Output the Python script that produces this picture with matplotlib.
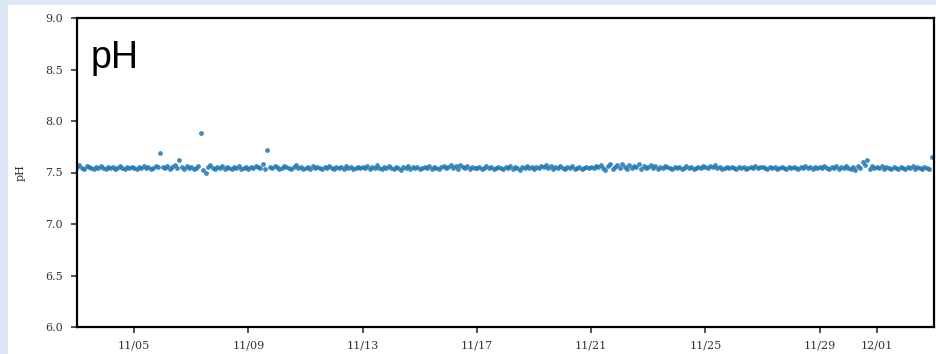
import matplotlib
matplotlib.use("Agg")
import matplotlib.pyplot as plt
import matplotlib.dates as mdates
from matplotlib.patches import Rectangle
import pandas as pd

# ---- data: pH readings every 2 hours, 11/03 00:00 -> 12/02 22:00 (one row per day)
start_time = "2023-11-03 00:00"
step = "2h"
ph_values = [
    7.55, 7.57, 7.54, 7.53, 7.56, 7.55, 7.54, 7.53, 7.55, 7.54, 7.56, 7.54,
    7.53, 7.55, 7.54, 7.55, 7.53, 7.54, 7.56, 7.54, 7.53, 7.55, 7.54, 7.55,
    7.54, 7.53, 7.55, 7.54, 7.56, 7.54, 7.55, 7.53, 7.54, 7.56, 7.55, 7.69,
    7.55, 7.54, 7.56, 7.53, 7.55, 7.57, 7.54, 7.62, 7.55, 7.53, 7.56, 7.54,
    7.55, 7.53, 7.54, 7.56, 7.88, 7.52, 7.50, 7.55, 7.57, 7.54, 7.53, 7.55,
    7.54, 7.56, 7.53, 7.55, 7.54, 7.53, 7.55, 7.54, 7.56, 7.53, 7.54, 7.55,
    7.53, 7.55, 7.54, 7.56, 7.55, 7.54, 7.58, 7.53, 7.72, 7.55, 7.54, 7.56,
    7.55, 7.53, 7.54, 7.56, 7.55, 7.54, 7.53, 7.55, 7.57, 7.54, 7.55, 7.53,
    7.54, 7.55, 7.53, 7.56, 7.54, 7.55, 7.54, 7.53, 7.55, 7.54, 7.56, 7.54,
    7.53, 7.55, 7.54, 7.55, 7.53, 7.56, 7.54, 7.55, 7.53, 7.54, 7.55, 7.54,
    7.55, 7.54, 7.56, 7.53, 7.55, 7.54, 7.57, 7.54, 7.53, 7.55, 7.54, 7.56,
    7.54, 7.53, 7.55, 7.54, 7.52, 7.55, 7.54, 7.56, 7.53, 7.55, 7.54, 7.55,
    7.53, 7.54, 7.55, 7.54, 7.56, 7.53, 7.55, 7.54, 7.53, 7.55, 7.56, 7.54,
    7.55, 7.57, 7.54, 7.56, 7.53, 7.57, 7.55, 7.54, 7.56, 7.53, 7.55, 7.54,
    7.54, 7.55, 7.53, 7.54, 7.56, 7.54, 7.55, 7.53, 7.54, 7.55, 7.54, 7.53,
    7.55, 7.54, 7.56, 7.53, 7.55, 7.54, 7.52, 7.55, 7.54, 7.56, 7.54, 7.55,
    7.53, 7.55, 7.54, 7.56, 7.55, 7.57, 7.54, 7.56, 7.53, 7.55, 7.54, 7.56,
    7.54, 7.53, 7.55, 7.54, 7.56, 7.53, 7.54, 7.55, 7.53, 7.54, 7.55, 7.54,
    7.55, 7.54, 7.56, 7.55, 7.57, 7.54, 7.52, 7.56, 7.58, 7.53, 7.55, 7.57,
    7.54, 7.58, 7.55, 7.53, 7.57, 7.54, 7.56, 7.55, 7.58, 7.53, 7.56, 7.54,
    7.55, 7.57, 7.54, 7.56, 7.53, 7.55, 7.54, 7.56, 7.55, 7.54, 7.53, 7.55,
    7.54, 7.55, 7.53, 7.54, 7.56, 7.54, 7.55, 7.53, 7.54, 7.55, 7.54, 7.56,
    7.55, 7.54, 7.56, 7.55, 7.57, 7.54, 7.55, 7.53, 7.54, 7.55, 7.54, 7.55,
    7.54, 7.53, 7.55, 7.54, 7.55, 7.53, 7.54, 7.55, 7.54, 7.56, 7.54, 7.55,
    7.55, 7.54, 7.53, 7.55, 7.54, 7.55, 7.53, 7.54, 7.55, 7.54, 7.53, 7.55,
    7.54, 7.55, 7.54, 7.53, 7.55, 7.54, 7.56, 7.54, 7.55, 7.53, 7.55, 7.54,
    7.55, 7.54, 7.56, 7.54, 7.53, 7.55, 7.54, 7.56, 7.53, 7.55, 7.54, 7.56,
    7.54, 7.53, 7.55, 7.52, 7.56, 7.54, 7.60, 7.57, 7.62, 7.53, 7.56, 7.54,
    7.55, 7.54, 7.56, 7.53, 7.55, 7.54, 7.53, 7.55, 7.54, 7.53, 7.55, 7.54,
    7.53, 7.55, 7.54, 7.56, 7.53, 7.55, 7.54, 7.53, 7.55, 7.54, 7.53, 7.65,
]
x_start = "2023-11-03"
x_end = "2023-12-03"
y_ticks = [6.0, 6.5, 7.0, 7.5, 8.0, 8.5, 9.0]
tick_days = [1, 5, 9, 13, 17, 21, 25, 29]
title_text = "pH"
y_label = "pH"

times = pd.date_range(start_time, periods=len(ph_values), freq=step)

fig = plt.figure(figsize=(9.36, 3.54), dpi=100)
fig.patch.set_facecolor("white")
# light-blue page frame of the screenshot
frame_color = "#dce8f5"
fig.patches.append(Rectangle((0, 1 - 5 / 354), 1, 5 / 354, transform=fig.transFigure,
                             facecolor=frame_color, edgecolor="none", zorder=-1))
fig.patches.append(Rectangle((0, 0), 8 / 936, 1, transform=fig.transFigure,
                             facecolor=frame_color, edgecolor="none", zorder=-1))

ax = fig.add_axes([77 / 936, (354 - 327) / 354, (934 - 77) / 936, (327 - 18) / 354])
ax.scatter(times, ph_values, s=12, color="#1f77b4", alpha=0.85, linewidths=0)

ax.set_xlim(pd.Timestamp(x_start), pd.Timestamp(x_end))
ax.set_ylim(y_ticks[0], y_ticks[-1])
ax.set_yticks(y_ticks)
ax.set_yticklabels([f"{v:.1f}" for v in y_ticks])
ax.xaxis.set_major_locator(mdates.DayLocator(bymonthday=tick_days))
ax.xaxis.set_major_formatter(mdates.DateFormatter("%m/%d"))

for sp in ax.spines.values():
    sp.set_linewidth(1.6)
    sp.set_color("black")
ax.tick_params(direction="out", length=4, width=1.2, color="#333333",
               labelsize=8, labelcolor="#333333", pad=6)
for lab in ax.get_xticklabels() + ax.get_yticklabels():
    lab.set_family("DejaVu Serif")

ax.set_ylabel(y_label, family="DejaVu Serif", fontsize=8, color="#333333", labelpad=14)
ax.text(0.016, 0.838, title_text, transform=ax.transAxes, fontsize=27,
        family="Liberation Sans", va="baseline", ha="left", color="black")

fig.savefig("out.png", dpi=100)
